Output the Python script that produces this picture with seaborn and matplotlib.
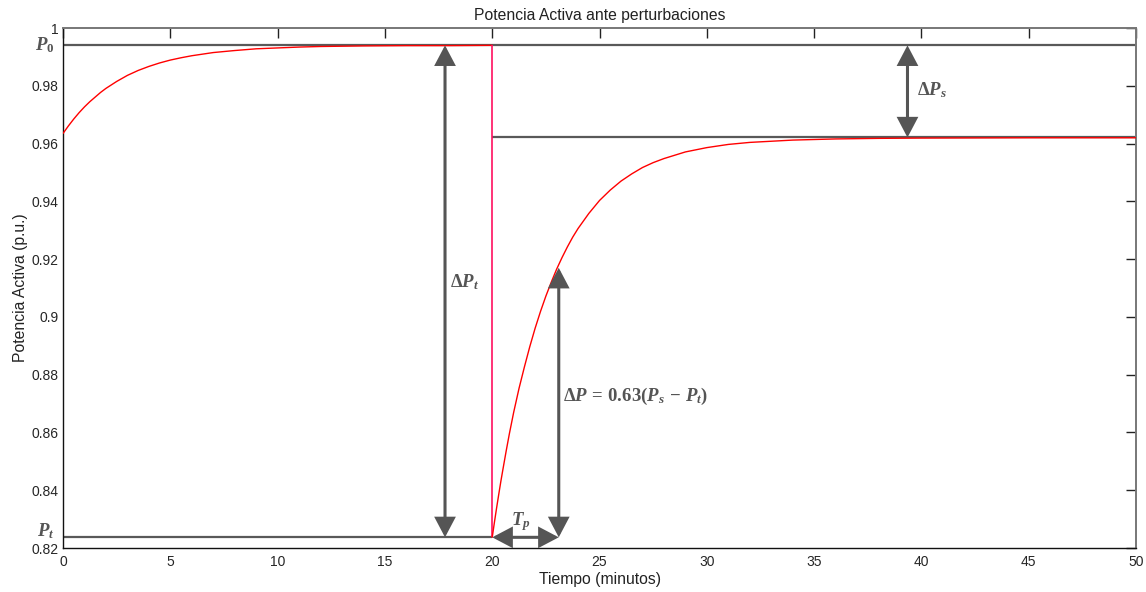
import matplotlib
matplotlib.use("Agg")
import matplotlib.pyplot as plt
import seaborn as sns
import pandas as pd

# ---------------- data ----------------
t_before = [0, 0.25, 0.5, 0.75, 1, 1.25, 1.5, 1.75, 2, 2.5, 3, 3.5, 4, 4.5, 5, 5.5, 6,
            7, 8, 9, 10, 11, 12, 14, 16, 18, 20]
p_before = [0.9635, 0.9661, 0.9685, 0.9707, 0.9727, 0.9745, 0.9761, 0.9777, 0.9791,
            0.9815, 0.9836, 0.9853, 0.9867, 0.9879, 0.9889, 0.9897, 0.9904, 0.9915,
            0.9922, 0.9928, 0.9931, 0.9934, 0.9936, 0.9938, 0.9939, 0.9939, 0.9940]

t_after = [20, 20.1, 20.2, 20.3, 20.4, 20.5, 20.65, 20.8, 21, 21.25, 21.5, 21.75, 22,
           22.25, 22.5, 22.75, 23, 23.25, 23.5, 23.75, 24, 24.5, 25, 25.5, 26, 26.5,
           27, 27.5, 28, 29, 30, 31, 32, 34, 36, 38, 40, 45, 50]
p_after = [0.8237, 0.8288, 0.8337, 0.8384, 0.8430, 0.8473, 0.8536, 0.8596, 0.8670,
           0.8753, 0.8827, 0.8897, 0.8961, 0.9019, 0.9072, 0.9120, 0.9165, 0.9205,
           0.9242, 0.9276, 0.9306, 0.9358, 0.9403, 0.9439, 0.9470, 0.9495, 0.9517,
           0.9534, 0.9548, 0.9571, 0.9586, 0.9597, 0.9604, 0.9612, 0.9616, 0.9618,
           0.9619, 0.9620, 0.9620]

P0 = 0.9940          # initial power level
Ps = 0.9621          # new steady-state level
Pt = 0.8237          # transient minimum
t_step = 20          # disturbance time
Tp = 23.1            # time at which 63 % of the recovery is reached
P_63 = 0.9170        # power at Tp
x_dPt = 17.8         # position of the Delta P_t arrow
x_dPs = 39.35        # position of the Delta P_s arrow

x_ticks = [0, 5, 10, 15, 20, 25, 30, 35, 40, 45, 50]
y_ticks = [0.82, 0.84, 0.86, 0.88, 0.90, 0.92, 0.94, 0.96, 0.98, 1.0]
y_tick_labels = ["0.82", "0.84", "0.86", "0.88", "0.9", "0.92", "0.94", "0.96", "0.98", "1"]

title = "Potencia Activa ante perturbaciones"
xlabel = "Tiempo (minutos)"
ylabel = "Potencia Activa (p.u.)"

# ---------------- style ----------------
sns.set_style("white")
plt.rcParams["font.family"] = ["Liberation Sans", "DejaVu Sans"]
plt.rcParams["mathtext.fontset"] = "custom"
plt.rcParams["mathtext.rm"] = "Liberation Serif:bold"
plt.rcParams["mathtext.it"] = "Liberation Serif:italic:bold"
plt.rcParams["mathtext.bf"] = "Liberation Serif:italic:bold"

fig = plt.figure(figsize=(11.46, 5.92), dpi=100)
ax = fig.add_axes([0.055, 0.0743, 0.9363, 0.8784])

grey = "#595959"
df1 = pd.DataFrame({"t": t_before, "p": p_before})
df2 = pd.DataFrame({"t": t_after, "p": p_after})

# reference levels
ax.hlines(P0, 0, 50, color=grey, lw=1.6, zorder=2)
ax.hlines(Ps, t_step, 50, color=grey, lw=1.6, zorder=2)
ax.hlines(Pt, 0, t_step, color=grey, lw=1.6, zorder=2)

# response
sns.lineplot(data=df1, x="t", y="p", ax=ax, color="#ff0000", lw=1.0, zorder=3)
ax.vlines(t_step, Pt, P0, color="#ff1060", lw=1.2, zorder=3)
sns.lineplot(data=df2, x="t", y="p", ax=ax, color="#ff0000", lw=1.0, zorder=3)

# arrows
arrow_kw = dict(arrowstyle="<|-|>,head_length=0.95,head_width=0.5",
                color="#555555", lw=2.2, shrinkA=0, shrinkB=0, mutation_scale=12,
                joinstyle="miter", capstyle="butt")
ax.annotate("", xy=(x_dPt, P0), xytext=(x_dPt, Pt), arrowprops=arrow_kw, zorder=4)
ax.annotate("", xy=(x_dPs, P0), xytext=(x_dPs, Ps), arrowprops=arrow_kw, zorder=4)
ax.annotate("", xy=(Tp, P_63), xytext=(Tp, Pt), arrowprops=arrow_kw, zorder=4)
ax.annotate("", xy=(Tp, Pt), xytext=(t_step, Pt), arrowprops=arrow_kw, zorder=4)

# annotation texts
lab_col = "#555555"
fs_m = 13.5
ax.text(x_dPt + 0.25, 0.912, r"$\Delta P_t$", fontsize=fs_m, color=lab_col, va="center", ha="left")
ax.text(x_dPs + 0.45, 0.9786, r"$\Delta P_s$", fontsize=fs_m, color=lab_col, va="center", ha="left")
ax.text(Tp + 0.2, 0.8723, r"$\Delta P\,=\,0.63(P_s\,-\,P_t)$", fontsize=fs_m, color=lab_col,
        va="center", ha="left")
ax.text((t_step + Tp) / 2 - 0.2, 0.8290, r"$T_p$", fontsize=fs_m, color=lab_col, va="center", ha="center")

ytr = ax.get_yaxis_transform()
ax.text(-0.008, P0 + 0.0002, r"$P_0$", transform=ytr, fontsize=fs_m, color=lab_col,
        va="center", ha="right")
ax.text(-0.008, Pt + 0.0020, r"$P_t$", transform=ytr, fontsize=fs_m, color=lab_col,
        va="center", ha="right")

# axes
ax.set_xlim(0, 50)
ax.set_ylim(0.82, 1.0)
ax.set_xticks(x_ticks)
ax.set_xticklabels([str(v) for v in x_ticks])
ax.set_yticks(y_ticks)
ax.set_yticklabels(y_tick_labels)
ax.tick_params(direction="in", length=7, width=1, top=True, right=True,
               labelsize=10, labelcolor="#262626", color="#222222")
ax.tick_params(axis="x", pad=5)
ax.tick_params(axis="y", pad=3)
ax.set_title(title, fontsize=11.3, color="#222222", pad=6)
ax.set_xlabel(xlabel, fontsize=11.3, color="#222222", labelpad=2)
ax.set_ylabel(ylabel, fontsize=11.3, color="#222222", labelpad=3)
for s in ["left", "bottom"]:
    ax.spines[s].set_color("#111111")
    ax.spines[s].set_linewidth(1.0)
for s in ["top", "right"]:
    ax.spines[s].set_color("#777777")
    ax.spines[s].set_linewidth(1.4)
ax.spines[:].set_visible(True)

fig.savefig("out.png", dpi=100, facecolor="white")
